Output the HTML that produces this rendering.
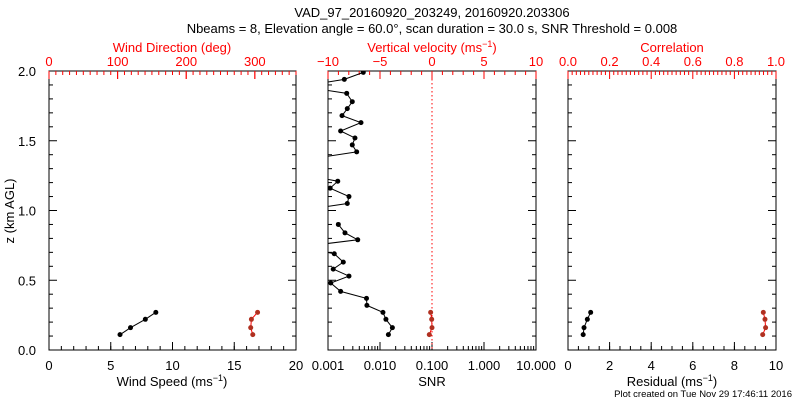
<!DOCTYPE html>
<html><head><meta charset="utf-8"><style>
body{margin:0;background:#fff}
svg{display:block;font-family:"Liberation Sans",sans-serif}
</style></head><body>
<svg id="c" width="800" height="400" xmlns="http://www.w3.org/2000/svg">
<text x="432" y="17" font-size="13" text-anchor="middle">VAD_97_20160920_203249, 20160920.203306</text>
<text x="432" y="33" font-size="13" text-anchor="middle">Nbeams = 8, Elevation angle = 60.0°, scan duration = 30.0 s, SNR Threshold = 0.008</text>
<text x="14" y="211" font-size="13" text-anchor="middle" transform="rotate(-90 14 211)">z (km AGL)</text>
<text x="792" y="397" font-size="9.5" text-anchor="end">Plot created on Tue Nov 29 17:46:11 2016</text>
<defs>
<clipPath id="cm"><rect x="328" y="71" width="208" height="279"/></clipPath>
</defs>
</svg>
<script>
// data
const heights=[0.11,0.16,0.22,0.27,0.32,0.37,0.42,0.48,0.53,0.58,0.63,0.69,0.74,0.79,0.84,0.90,0.95,1.00,1.05,1.10,1.16,1.21,1.26,1.31,1.36,1.42,1.47,1.52,1.57,1.63,1.68,1.73,1.78,1.84,1.89,1.94,1.99];
const snr=[0.0145,0.0173,0.0130,0.0114,0.0056,0.0055,0.00175,0.00113,0.00253,0.00126,0.00197,0.00132,0.0003,0.00373,0.00212,0.00158,null,0.0003,0.00235,0.00253,0.0011,0.00154,0.0003,null,0.0003,0.00356,0.00293,0.0033,0.00175,0.00431,0.00186,0.00235,0.00293,0.00229,0.0003,0.00206,0.00477];
const lowHeights=[0.11,0.16,0.22,0.27];
const windSpeed=[5.75,6.6,7.8,8.65];
const windDir=[297,294,295,304];
const vertVel=[-0.26,0,-0.03,-0.13];
const residual=[0.73,0.77,0.93,1.09];
const correlation=[0.936,0.950,0.947,0.939];
const yTicks=["0.0","0.5","1.0","1.5","2.0"];
const speedTicks=["0","5","10","15","20"];
const dirTicks=["0","100","200","300"];
const wTicks=["−10","−5","0","5","10"];
const snrTicks=["0.001","0.010","0.100","1.000","10.000"];
const resTicks=["0","2","4","6","8","10"];
const corTicks=["0.0","0.2","0.4","0.6","0.8","1.0"];

const svg=document.getElementById('c');
const NS='http://www.w3.org/2000/svg';
function mk(tag,at,parent){const e=document.createElementNS(NS,tag);for(const k in at)e.setAttribute(k,at[k]);(parent||svg).appendChild(e);return e;}
const Y0=350,Y1=71;
const yS=z=>Y0-(z/2)*(Y0-Y1);
const RED='#ff0000',DRED='#b03020';
const panels=[{x0:49,x1:296},{x0:328,x1:536},{x0:568,x1:776}];
function lin(p,a,b){return v=>p.x0+(v-a)/(b-a)*(p.x1-p.x0);}
function logS(p){return v=>p.x0+(Math.log10(v)+3)/4*(p.x1-p.x0);}
const xs=[lin(panels[0],0,20),logS(panels[1]),lin(panels[2],0,10)];
const xt=[lin(panels[0],0,360),lin(panels[1],-10,10),lin(panels[2],0,1)];

function txt(x,y,s,col,name,size){const t=mk('text',{x:x,y:y,'font-size':size||13,'text-anchor':'middle',fill:col||'#000'});t.textContent=s;return t;}

panels.forEach((p,i)=>{
  const r=mk('rect',{x:p.x0,y:Y1,width:p.x1-p.x0,height:Y0-Y1,fill:'none',stroke:'#000'});
  
  
  // y ticks
  for(let k=0;k<=20;k++){const z=k*0.1,y=yS(z),L=k%5==0?8:4;
    mk('line',{x1:p.x0,x2:p.x0+L,y1:y,y2:y,stroke:'#000'});
    mk('line',{x1:p.x1,x2:p.x1-L,y1:y,y2:y,stroke:'#000'});}
});
yTicks.forEach((s,k)=>{const t=txt(27,yS(k*0.5)+5,s,'#000','y-tick-label');});

// bottom linear ticks
function botLin(p,sc,labels,step,minor,title,name){
  labels.forEach((s,k)=>{const v=k*step,x=sc(v);mk('line',{x1:x,x2:x,y1:Y0,y2:Y0-8,stroke:'#000'});txt(x,370,s,'#000',name+'-tick-label');});
  const n=(labels.length-1)*minor;for(let k=0;k<=n;k++){const x=sc(k*step/minor);mk('line',{x1:x,x2:x,y1:Y0,y2:Y0-4,stroke:'#000'});}
}
botLin(panels[0],xs[0],speedTicks,5,5,'','speed');
botLin(panels[2],xs[2],resTicks,2,4,'','residual');
// snr log ticks
snrTicks.forEach((s,k)=>{const v=Math.pow(10,k-3),x=xs[1](v);mk('line',{x1:x,x2:x,y1:Y0,y2:Y0-8,stroke:'#000'});txt(x,370,s,'#000','snr-tick-label');
  if(k<4)for(let m=2;m<10;m++){const xm=xs[1](v*m);mk('line',{x1:xm,x2:xm,y1:Y0,y2:Y0-4,stroke:'#000'});}});
txt(172,386,'','#000','x');
const t1=txt(172,386,'Wind Speed (ms','#000','x-axis-title-speed');const ts1=mk('tspan',{dy:-5,'font-size':9},t1);ts1.textContent='−1';const ts1b=mk('tspan',{dy:5},t1);ts1b.textContent=')';
txt(432,386,'SNR','#000','x-axis-title-snr');
const t3=txt(672,386,'Residual (ms','#000','x-axis-title-residual');const ts3=mk('tspan',{dy:-5,'font-size':9},t3);ts3.textContent='−1';const ts3b=mk('tspan',{dy:5},t3);ts3b.textContent=')';

// top red axes
function topLin(sc,labels,step,minor,name){
  labels.forEach((s,k)=>{const x=sc(k*step+(name=='w'?-10:0));mk('line',{x1:x,x2:x,y1:Y1,y2:Y1+8,stroke:RED});txt(x,66,s,RED,name+'-top-tick-label');});
}
topLin(xt[0],dirTicks,100,0,'dir');
for(let d=0;d<=360;d+=10){const x=xt[0](d);mk('line',{x1:x,x2:x,y1:Y1,y2:Y1+(d%100==0?8:4),stroke:RED});}
topLin(xt[1],wTicks,5,0,'w');
for(let d=-10;d<=10;d+=1){const x=xt[1](d);mk('line',{x1:x,x2:x,y1:Y1,y2:Y1+(d%5==0?8:4),stroke:RED});}
corTicks.forEach((s,k)=>{const x=xt[2](k*0.2);txt(x,66,s,RED,'cor-top-tick-label');});
for(let k=0;k<=50;k++){const x=xt[2](k*0.02);mk('line',{x1:x,x2:x,y1:Y1,y2:Y1+(k%10==0?8:4),stroke:RED});}
txt(172,52,'Wind Direction (deg)',RED,'top-axis-title-direction');
const t5=txt(432,52,'Vertical velocity (ms',RED,'top-axis-title-vertical-velocity');const ts5=mk('tspan',{dy:-5,'font-size':9},t5);ts5.textContent='−1';const ts5b=mk('tspan',{dy:5},t5);ts5b.textContent=')';
txt(672,52,'Correlation',RED,'top-axis-title-correlation');

// zero velocity dotted line
const zl=mk('line',{x1:xt[1](0),x2:xt[1](0),y1:Y1,y2:Y0,stroke:RED,'stroke-dasharray':'1.5,2.5'});



function series(xsFn,vals,hs,lineCol,dotCol,name,clip){
  const g=mk('g',clip?{'clip-path':'url(#cm)'}:{});
  
  
  let seg=[];const segs=[];
  vals.forEach((v,i)=>{if(v==null){if(seg.length)segs.push(seg);seg=[];}else seg.push([xsFn(v),yS(hs[i])]);});
  if(seg.length)segs.push(seg);
  segs.forEach(s=>{const l=mk('polyline',{points:s.map(p=>p.join(',')).join(' '),fill:'none',stroke:lineCol,'stroke-width':1},g);
    });
  vals.forEach((v,i)=>{if(v==null)return;const c=mk('circle',{cx:xsFn(v),cy:yS(hs[i]),r:2.5,fill:dotCol},g);
    });
}
series(xs[0],windSpeed,lowHeights,'#000','#000','wind-speed-series');
series(xt[0],windDir,lowHeights,RED,DRED,'wind-direction-series');
series(xs[1],snr,heights,'#000','#000','snr-series',true);
series(xt[1],vertVel,lowHeights,RED,DRED,'vertical-velocity-series');
series(xs[2],residual,lowHeights,'#000','#000','residual-series');
series(xt[2],correlation,lowHeights,RED,DRED,'correlation-series');
</script>
</body></html>
